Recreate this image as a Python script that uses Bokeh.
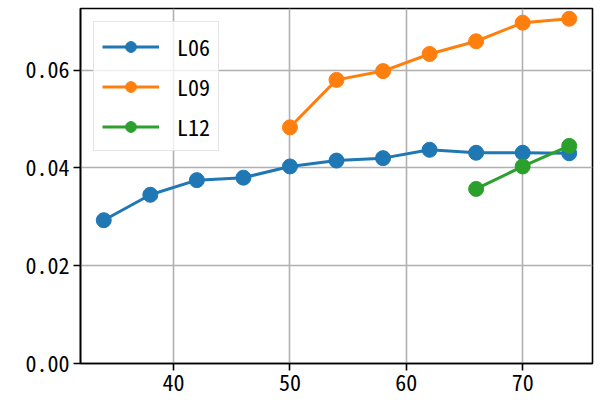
from bokeh.plotting import figure
from bokeh.models import FixedTicker, PrintfTickFormatter, Range1d
from bokeh.embed import file_html
from bokeh.resources import INLINE

x_l06 = [34, 38, 42, 46, 50, 54, 58, 62, 66, 70, 74]
y_l06 = [0.0293, 0.0345, 0.0375, 0.0380, 0.0403, 0.0415, 0.0420, 0.0437, 0.0431, 0.0431, 0.0430]
x_l09 = [50, 54, 58, 62, 66, 70, 74]
y_l09 = [0.0483, 0.0580, 0.0598, 0.0633, 0.0659, 0.0697, 0.0705]
x_l12 = [66, 70, 74]
y_l12 = [0.0357, 0.0403, 0.0445]
series = [("L06", x_l06, y_l06, "#1f77b4"),
          ("L09", x_l09, y_l09, "#ff7f0e"),
          ("L12", x_l12, y_l12, "#2ca02c")]
x_ticks = [40, 50, 60, 70]
y_ticks = [0.0, 0.02, 0.04, 0.06]

FONT = "'Noto Sans Mono CJK JP', 'Liberation Mono', monospace"

p = figure(frame_width=512, frame_height=355, width=595, height=398,
           min_border_left=80, min_border_right=3, min_border_top=8, min_border_bottom=35,
           output_backend="svg", toolbar_location=None,
           x_range=Range1d(32, 76), y_range=Range1d(0, 0.0726))

for name, xs, ys, c in series:
    p.line(xs, ys, color=c, line_width=3, legend_label=name)
    p.scatter(xs, ys, color=c, size=15, legend_label=name)

p.xaxis.ticker = FixedTicker(ticks=x_ticks)
p.yaxis.ticker = FixedTicker(ticks=y_ticks)
p.yaxis.formatter = PrintfTickFormatter(format="%.2f")
for ax in (p.xaxis, p.yaxis):
    ax.major_label_text_font = FONT
    ax.major_label_text_font_size = "22px"
    ax.major_label_text_color = "black"
    ax.axis_line_color = "black"
    ax.axis_line_width = 1.6
    ax.major_tick_line_color = "black"
    ax.major_tick_line_width = 1.6
    ax.major_tick_out = 7
    ax.major_tick_in = 0
    ax.minor_tick_line_color = None
    ax.major_label_standoff = 4

p.outline_line_color = "black"
p.outline_line_width = 1.6
p.outline_line_alpha = 1.0
p.grid.grid_line_color = "#b0b0b0"
p.grid.grid_line_width = 1.6

lg = p.legend[0]
lg.location = "top_left"
lg.margin = 13
lg.padding = 8
lg.spacing = 8
lg.glyph_width = 57
lg.glyph_height = 27
lg.label_standoff = 18
lg.label_text_font = FONT
lg.label_text_font_size = "22px"
lg.label_text_color = "black"
lg.border_line_color = "#cccccc"
lg.border_line_width = 1.6
lg.background_fill_alpha = 0.8

open("out.html", "w").write(file_html(p, INLINE))
